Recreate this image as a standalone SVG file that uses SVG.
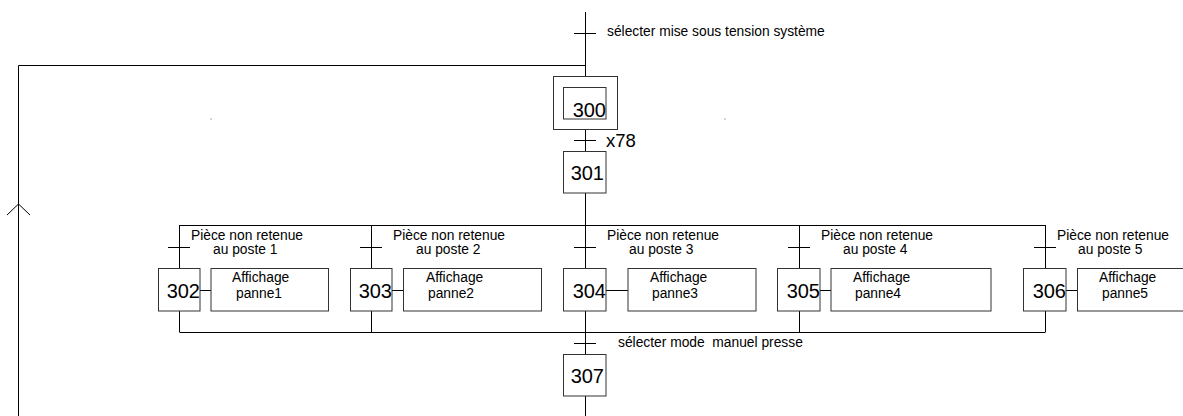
<svg xmlns="http://www.w3.org/2000/svg" width="1183" height="416" viewBox="0 0 1183 416">
<style>
.ln{stroke:#000;stroke-width:1;fill:none}
.bx{stroke:#333;stroke-width:1;fill:#fff}
.t{font-family:"Liberation Sans",Arial,sans-serif;font-size:13.8px;fill:#000;white-space:pre}
.n{font-family:"Liberation Sans",Arial,sans-serif;font-size:20px;fill:#000;text-anchor:end}
.x{font-family:"Liberation Sans",Arial,sans-serif;font-size:18.5px;fill:#000}
</style>
<rect width="1183" height="416" fill="#fff"/>
<g id="connectors">
<path class="ln" d="M585.5 12V76M585.5 129V151M585.5 193V225M585.5 311V354M585.5 396V416"/>
<path class="ln" d="M585.5 65.5H18.5V416M7 215L18.5 204L30 215"/>
<path class="ln" d="M179.5 225.5H1045.5M179.5 332.5H1045.5"/>
<path class="ln" d="M179.5 225V268M179.5 311V332M371.5 225V268M371.5 311V332M585.5 225V268M799.5 225V268M799.5 311V332M1045.5 225V268M1045.5 311V332"/>
<path class="ln" d="M574 33.5H596M574 140.5H596M574 343.5H596M168 247.5H190M360 247.5H382M574 247.5H596M788 247.5H810M1034 247.5H1056"/>
<path class="ln" d="M200 290.5H211M392 290.5H403M606 290.5H628M820 290.5H831M1066 290.5H1077"/>
</g>
<g id="dots"><rect x="210.5" y="118.5" width="1" height="1" fill="#555"/><rect x="724.5" y="118.5" width="1" height="1" fill="#555"/></g>
<g id="t-top"><text class="t" x="607" y="36">sélecter mise sous tension système</text></g>
<g id="step300"><rect class="bx" x="553.5" y="76.5" width="64" height="53"/><rect class="bx" x="563.5" y="87.5" width="42.5" height="31.5"/><text class="n" x="606" y="117">300</text></g>
<g id="t-x78"><text class="x" x="606" y="147">x78</text></g>
<g id="step301"><rect class="bx" x="563.5" y="151.5" width="42.5" height="41.5"/><text class="n" x="604" y="179.5">301</text></g>
<g id="b1"><text class="t" x="191" y="240">Pièce non retenue</text><text class="t" x="213" y="254">au poste 1</text>
<rect class="bx" x="158.5" y="268.5" width="41.5" height="42.5"/><text class="n" x="200" y="297.5">302</text>
<rect class="bx" x="211" y="268.5" width="117.5" height="42.5"/><text class="t" x="232" y="281.5">Affichage</text><text class="t" x="236" y="298">panne1</text></g>
<g id="b2"><text class="t" x="393" y="240">Pièce non retenue</text><text class="t" x="416" y="254">au poste 2</text>
<rect class="bx" x="350.5" y="268.5" width="41.5" height="42.5"/><text class="n" x="392" y="297.5">303</text>
<rect class="bx" x="403.5" y="268.5" width="138" height="42.5"/><text class="t" x="426" y="281.5">Affichage</text><text class="t" x="428" y="298">panne2</text></g>
<g id="b3"><text class="t" x="607" y="240">Pièce non retenue</text><text class="t" x="629" y="254">au poste 3</text>
<rect class="bx" x="563.5" y="268.5" width="42.5" height="42.5"/><text class="n" x="606" y="297.5">304</text>
<rect class="bx" x="628" y="268.5" width="128" height="42.5"/><text class="t" x="650" y="281.5">Affichage</text><text class="t" x="652" y="298">panne3</text></g>
<g id="b4"><text class="t" x="821" y="240">Pièce non retenue</text><text class="t" x="843" y="254">au poste 4</text>
<rect class="bx" x="777.5" y="268.5" width="42.5" height="42.5"/><text class="n" x="820" y="297.5">305</text>
<rect class="bx" x="831" y="268.5" width="160" height="42.5"/><text class="t" x="853" y="281.5">Affichage</text><text class="t" x="855" y="298">panne4</text></g>
<g id="b5"><text class="t" x="1057" y="240">Pièce non retenue</text><text class="t" x="1078" y="254">au poste 5</text>
<rect class="bx" x="1023.5" y="268.5" width="42.5" height="42.5"/><text class="n" x="1066" y="297.5">306</text>
<rect class="bx" x="1077.5" y="268.5" width="130" height="42.5"/><text class="t" x="1099" y="281.5">Affichage</text><text class="t" x="1102" y="298">panne5</text></g>
<g id="t-bottom"><text class="t" x="618" y="347">sélecter mode  manuel presse</text></g>
<g id="step307"><rect class="bx" x="563.5" y="354.5" width="42.5" height="41.5"/><text class="n" x="604" y="382.5">307</text></g>
</svg>
